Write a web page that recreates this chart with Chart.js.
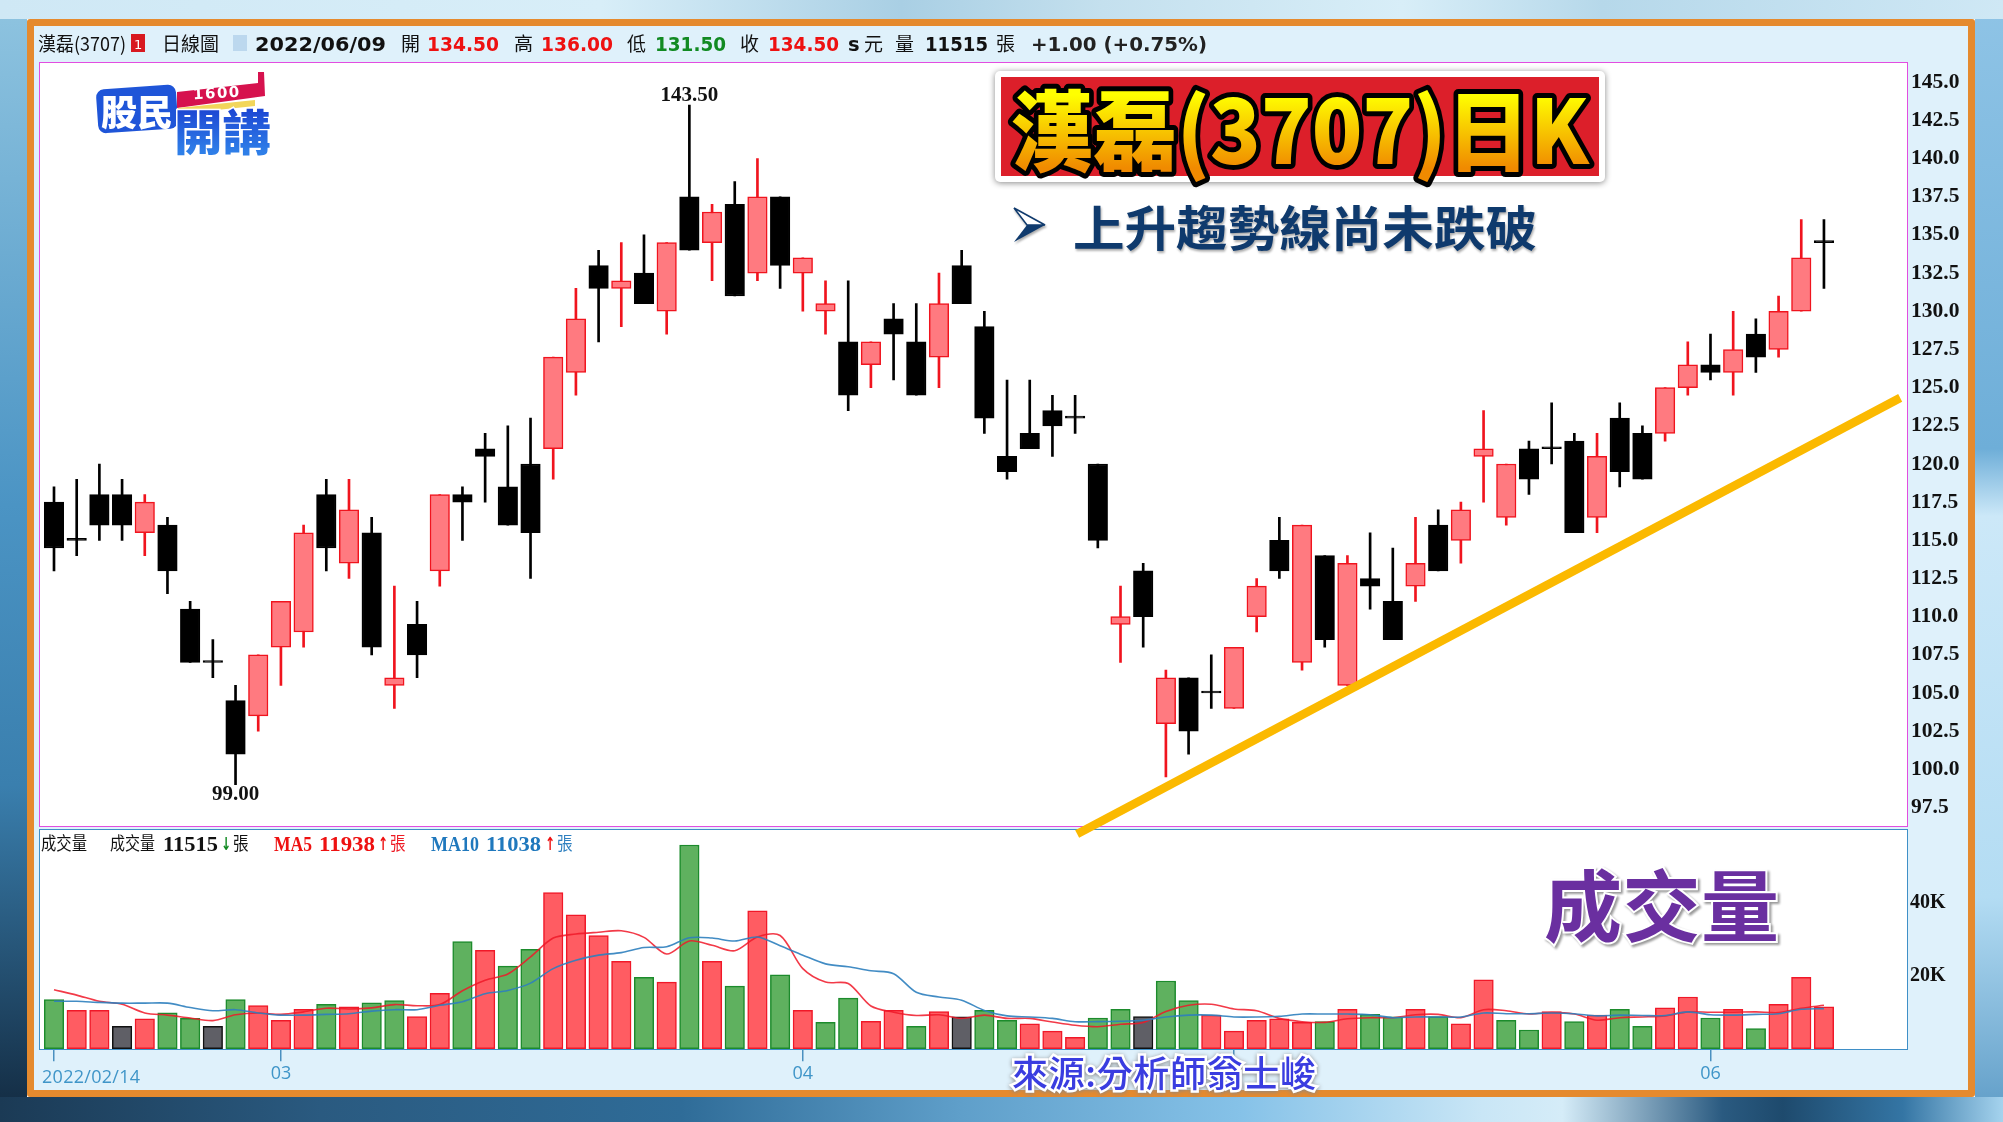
<!DOCTYPE html>
<html>
<head>
<meta charset="utf-8">
<title>漢磊(3707)日K</title>
<script src="https://cdn.jsdelivr.net/npm/chart.js@4"></script>
<style>
  html,body{margin:0;padding:0;}
  body{position:relative;width:2003px;height:1122px;overflow:hidden;
    background:
      linear-gradient(90deg,#1b3a55 0,#2a5a80 16%,#2f6c98 34%,#5f9fca 48%,#86c2e8 62%,#c9e6f6 74%,#d5ecf8 78%,#2a5a80 86%,#1e4a6d 89%,#3475a4 95%,#a5d3ee 100%) 0 1097px/100% 25px no-repeat,
      linear-gradient(90deg,#cfe8f5 0,#d8eef8 30%,#a9cfe4 45%,#c4e0ee 55%,#d8eef8 70%,#b6d8ea 80%,#cfe8f5 100%) 0 0/100% 19px no-repeat,
      linear-gradient(180deg,#8fc4e6 0,#6eaed8 40%,#cce8f8 46%,#b3dcf3 80%,#5d9bc6 100%) 1975px 0/28px 100% no-repeat,
      linear-gradient(180deg,#8fc4e0 0,#4b94c4 45%,#3a7fae 70%,#12293f 100%) 0 0/27px 100% no-repeat;
    font-family:"Noto Sans CJK TC",sans-serif;}
  #panel{position:absolute;left:27px;top:19px;width:1934px;height:1064px;border:7px solid #e58a2e;background:#dff1fb;border-radius:3px;}
  .plot{position:absolute;background:#fff;box-sizing:border-box;}
  #pricePlot{left:39px;top:62px;width:1869px;height:765px;border:1.5px solid #e24de0;}
  #volPlot{left:39px;top:829px;width:1869px;height:221px;border:1.5px solid #3f8fc7;}
  canvas{position:absolute;}
  #priceChart{left:40px;top:63px;z-index:3;}
  #volChart{left:40px;top:830px;z-index:2;}
  #overlay{position:absolute;left:0;top:0;z-index:4;}
  .cjk{font-family:"Noto Sans CJK TC",sans-serif;}
  .num{font-family:"DejaVu Sans",sans-serif;font-weight:700;font-size:19.5px;}
  .ser{font-family:"Liberation Serif",serif;font-weight:700;font-size:22px;}
</style>
</head>
<body>
<div id="panel"></div>
<div class="plot" id="pricePlot"></div>
<div class="plot" id="volPlot"></div>
<canvas id="volChart" width="1935" height="260"></canvas>
<canvas id="priceChart" width="1935" height="777"></canvas>

<svg id="overlay" width="2003" height="1122" viewBox="0 0 2003 1122">
  <defs>
    <linearGradient id="titleFill" gradientUnits="userSpaceOnUse" x1="0" y1="95" x2="0" y2="168">
      <stop offset="0" stop-color="#ffff00"/><stop offset="1" stop-color="#f08a00"/>
    </linearGradient>
    <linearGradient id="logoFill" gradientUnits="userSpaceOnUse" x1="0" y1="104" x2="0" y2="152">
      <stop offset="0" stop-color="#1a3fd0"/><stop offset="1" stop-color="#2f7fe8"/>
    </linearGradient>
  </defs>

  <!-- header row -->
  <g class="cjk" font-size="19" fill="#111">
    <text x="38" y="51" textLength="88" lengthAdjust="spacingAndGlyphs">漢磊(3707)</text>
    <rect x="131" y="34" width="14" height="18" fill="#d81920"/>
    <text x="134" y="49" font-size="13" fill="#fff" style="font-family:'DejaVu Sans'">1</text>
    <text x="162" y="51">日線圖</text>
    <rect x="233" y="35" width="14" height="16" fill="#bcd8ee"/>
    <text x="401" y="51">開</text><text x="514" y="51">高</text><text x="627" y="51">低</text>
    <text x="740" y="51">收</text><text x="864" y="51">元</text><text x="895" y="51">量</text>
    <text x="996" y="51">張</text>
  </g>
  <g class="num">
    <text x="255" y="51" fill="#111" textLength="131" lengthAdjust="spacingAndGlyphs">2022/06/09</text>
    <text x="427" y="51" fill="#ee1111" textLength="72" lengthAdjust="spacingAndGlyphs">134.50</text>
    <text x="541" y="51" fill="#ee1111" textLength="72" lengthAdjust="spacingAndGlyphs">136.00</text>
    <text x="655" y="51" fill="#118a22" textLength="71" lengthAdjust="spacingAndGlyphs">131.50</text>
    <text x="768" y="51" fill="#ee1111" textLength="71" lengthAdjust="spacingAndGlyphs">134.50</text>
    <text x="848" y="51" fill="#111">s</text>
    <text x="925" y="51" fill="#111" textLength="63" lengthAdjust="spacingAndGlyphs">11515</text>
    <text x="1031" y="51" fill="#222" textLength="176" lengthAdjust="spacingAndGlyphs">+1.00 (+0.75%)</text>
  </g>

  <!-- logo -->
  <g transform="rotate(-4 136 108)"><rect x="97" y="87" width="80" height="44" rx="8" fill="#1f55d8"/></g>
  <path d="M177 92 L258 83 L258 72 L264 72 L265 96 L177 108 Z" fill="#d6124e"/>
  <path d="M178 108 L255 100 L255 106 L178 114 Z" fill="#f2d65a"/>
  <text x="193" y="98" font-size="15" font-weight="700" fill="#fff" style="font-family:'DejaVu Sans'" letter-spacing="1.5" transform="rotate(-3 215 92)">1600</text>
  <text x="101" y="126" font-size="36" font-weight="900" fill="#fff" class="cjk" textLength="72" lengthAdjust="spacingAndGlyphs">股民</text>
  <text x="174" y="150" font-size="48" font-weight="900" class="cjk" fill="url(#logoFill)" stroke="#fff" stroke-width="3" paint-order="stroke" textLength="97" lengthAdjust="spacingAndGlyphs">開講</text>

  <!-- title box -->
  <rect x="995" y="71" width="610" height="111" rx="5" fill="#fff" style="filter:drop-shadow(0 1px 3px #888)"/>
  <rect x="1001" y="77" width="598" height="99" fill="#dc1f2a"/>
  <text x="1010" y="164" font-size="88" font-weight="900" class="cjk" fill="url(#titleFill)" stroke="#000" stroke-width="10" paint-order="stroke" stroke-linejoin="round" textLength="579" lengthAdjust="spacingAndGlyphs">漢磊(3707)日K</text>

  <!-- subtitle -->
  <g style="filter:drop-shadow(1px 2px 1px #aaa)">
    <polygon points="1014,208 1045,225 1027,225" fill="#fff" stroke="#0f3a6d" stroke-width="1.5"/>
    <polygon points="1014,242 1045,225 1027,225" fill="#0f3a6d"/>
    <text x="1073" y="246" font-size="48" font-weight="700" class="cjk" fill="#0f3a6d" textLength="464" lengthAdjust="spacingAndGlyphs">上升趨勢線尚未跌破</text>
  </g>

  <!-- volume legend -->
  <g class="cjk" font-size="18">
    <text x="41" y="850" fill="#111" textLength="46" lengthAdjust="spacingAndGlyphs">成交量</text>
    <text x="110" y="850" fill="#111" textLength="45" lengthAdjust="spacingAndGlyphs">成交量</text>
    <text x="233" y="850" fill="#111" textLength="15.5" lengthAdjust="spacingAndGlyphs">張</text>
    <text x="390" y="850" fill="#ee1b24" textLength="15.5" lengthAdjust="spacingAndGlyphs">張</text>
    <text x="557" y="850" fill="#2f80c0" textLength="15.5" lengthAdjust="spacingAndGlyphs">張</text>
  </g>
  <g class="ser">
    <text x="163" y="851" fill="#111" textLength="55" lengthAdjust="spacingAndGlyphs">11515</text>
    <text x="274" y="851" fill="#ee1111" textLength="38" lengthAdjust="spacingAndGlyphs">MA5</text>
    <text x="319" y="851" fill="#ee1111" textLength="56" lengthAdjust="spacingAndGlyphs">11938</text>
    <text x="431" y="851" fill="#1f78bd" textLength="48" lengthAdjust="spacingAndGlyphs">MA10</text>
    <text x="486" y="851" fill="#1f78bd" textLength="55" lengthAdjust="spacingAndGlyphs">11038</text>
  </g>
  <g font-size="18" font-weight="700" style="font-family:'DejaVu Sans'">
    <text x="221" y="850" fill="#118a22" textLength="10" lengthAdjust="spacingAndGlyphs">↓</text>
    <text x="378" y="850" fill="#ee1111" textLength="10" lengthAdjust="spacingAndGlyphs">↑</text>
    <text x="545" y="850" fill="#ee1111" textLength="10" lengthAdjust="spacingAndGlyphs">↑</text>
  </g>

  <!-- callouts -->
  <text x="1544" y="936" font-size="78" font-weight="700" class="cjk" fill="#6a2fa0" stroke="#fff" stroke-width="4" paint-order="stroke" textLength="235" style="filter:drop-shadow(2px 2px 1px #999)">成交量</text>
  <text x="42" y="1083" font-size="18" fill="#3f95c8" textLength="98" style="font-family:'Open Sans'">2022/02/14</text>
  <text x="1012" y="1087" font-size="36" font-weight="500" class="cjk" fill="#3a3de0" stroke="#fff" stroke-width="5" paint-order="stroke" textLength="304" style="filter:drop-shadow(0 1px 2px #888)">來源:分析師翁士峻</text>
</svg>

<script>
const opens  = [117.5,115,118,118,115.5,116,110.5,107,104.5,103.5,108,109,118,113.5,115.5,105.5,109.5,113,118,121,118.5,120,121,126,133,131.5,132.5,130,137.5,134.5,137,132.5,137.5,132.5,130,128,126.5,129.5,128,127,133,129,120.5,122,123.5,123,120,109.5,113,103,106,105,104,110,115,107,114,105.5,112.5,111,112,116,115,120.5,116.5,121,121,121.5,116.5,123,122,122,125,126.5,126,128.5,127.5,130,134.5];
const highs  = [118.5,119,120,119,118,116.5,111,108.5,105.5,107.5,111,116,119,119,116.5,112,111,118,118.5,122,122.5,123,127,131.5,134,134.5,135,134.5,143.5,137,138.5,140,137.5,133.5,132,132,128,130.5,130.5,132.5,134,130,125.5,125.5,124.5,124.5,120,112,113.5,106.5,106,107.5,108,112.5,116.5,116,114,114,115.5,114.5,116.5,117,117.5,123.5,120,121.5,124,122,122,124,122.5,125,128,128.5,130,129.5,131,136,136];
const lows   = [113,114,115,115,114,111.5,107,106,99,102.5,105.5,108,113,112.5,107.5,104,106,112,115,117.5,116,112.5,119,124.5,128,129,130.5,128.5,134,132,131,132,131.5,130,128.5,123.5,125,125.5,124.5,125,130.5,122,119,121,120.5,122,114.5,107,108,99.5,101,104,104,109,112.5,106.5,108,105.5,110.5,108.5,111,113,113.5,117.5,116,118,120,115.5,115.5,118.5,119,121.5,124.5,125.5,124.5,126,127,130,131.5];
const closes = [114.5,115,116,116,117.5,113,107,107,101,107.5,111,115.5,114.5,117,108,106,107.5,118,117.5,120.5,116,115.5,127,129.5,131.5,132,130.5,134.5,134,136.5,131,137.5,133,133.5,130.5,124.5,128,128.5,124.5,130.5,130.5,123,119.5,121,122.5,123,115,110,110,106,102.5,105,108,112,113,116,108.5,113.5,112,108.5,113.5,113,117,121,120,119,121,115.5,120.5,119.5,119,125,126.5,126,127.5,127,130,133.5,134.5];
const volumes = [13.5,10.5,10.5,6.1,8.2,9.8,8.3,6.1,13.5,11.8,7.8,10.8,12.2,11.5,12.6,13.2,8.8,15.2,29.4,27,22.7,27.3,42.9,36.8,31.1,24,19.6,18.3,56,24,17.2,37.9,20.3,10.5,7.2,13.9,7.5,10.5,6.1,10.2,8.7,10.5,7.8,6.8,4.8,3.1,8.4,10.8,8.8,18.6,13.2,9.2,4.8,7.8,8.2,7.2,7.4,10.8,9.4,8.7,10.8,8.8,6.8,18.9,7.8,5.1,10.2,7.4,9.2,10.8,6.1,11.2,14.2,8.4,10.8,5.5,12.2,19.6,11.5];
const volDir  = [-1,1,1,0,1,-1,-1,0,-1,1,1,1,-1,1,-1,-1,1,1,-1,1,-1,-1,1,1,1,1,-1,1,-1,1,-1,1,-1,1,-1,-1,1,1,-1,1,0,-1,-1,1,1,1,-1,-1,0,-1,-1,1,1,1,1,1,-1,1,-1,-1,1,-1,1,1,-1,-1,1,-1,1,-1,-1,1,1,-1,1,-1,1,1,1];
const ma5  = [16.2,14.7,13,12.2,9.8,9.2,8.4,7.7,9.3,9.8,9.4,10.1,11.1,10.9,11.2,12.1,11.8,12.1,15.9,18.8,20.5,25.2,30.4,31.5,32,32.4,30.6,26,29.6,28.4,26.9,30.7,31.1,22,18.3,17.9,11.7,10,9.1,9.3,8.3,9.2,8.3,8.3,7.3,6.4,6,6.7,7.2,10.2,11.9,12.2,10.9,10.4,8.3,7.4,7.2,8.2,8.5,8.5,9.3,9.4,8.5,10.7,10.4,9.5,9.9,9.5,7.8,8.5,8.7,9,10.1,10,10,10.1,9.9,11.1,11.9];
const ma10 = [13,13,12.7,12.5,12.5,12.5,11.3,10.4,10.7,9.8,9.2,9.2,9.4,9.6,10.3,10.7,10.7,11.9,12.9,15.1,16,18,22,24.3,25.7,26.4,27.8,28,30.5,30.4,29.6,30.7,28.3,25.7,23.3,22.5,21.4,20.6,15.5,14.2,13.3,10.5,9,8.7,8.3,7.4,7.4,7.5,7.8,8.7,9.2,9.2,8.7,8.7,8.9,9.5,9.5,9.5,9.3,8.5,8.7,8.7,8.7,9.8,9.6,9.6,9.8,9.6,9,9.2,9.1,9.1,10.1,9.3,9.2,9.4,9.6,10.8,11];
const priceTicks = [97.5,100,102.5,105,107.5,110,112.5,115,117.5,120,122.5,125,127.5,130,132.5,135,137.5,140,142.5,145];
const volTicks = [20,40];
const monthIdx = [0,10,33,52,73];
const monthLabels = ['','03','04','','06'];
const trendX = [45.09,81.36];
const trendY = [95.77,124.33];
const highMark = {i:28, text:'143.50'};
const lowMark = {i:8, text:'99.00'};

const xMin = -0.617, xMax = 81.66;
const axisFont = {family:'Liberation Serif', weight:'bold', size:21.5};
const ups = closes.map((c,i)=> c>opens[i]);

// tick labels must not shrink the plot area
const noPad = s => { s.paddingTop = s.paddingBottom = s.paddingLeft = s.paddingRight = 0; };

// 最高/最低 labels
const markLabels = {
  id:'markLabels',
  afterDatasetsDraw(c){
    const {ctx,scales:{x,y}} = c;
    ctx.save();
    ctx.font = 'bold 21px "Liberation Serif"';
    ctx.fillStyle = '#111';
    ctx.textAlign = 'center';
    ctx.textBaseline = 'middle';
    ctx.fillText(highMark.text, x.getPixelForValue(highMark.i), y.getPixelForValue(highs[highMark.i])-10);
    ctx.fillText(lowMark.text, x.getPixelForValue(lowMark.i), y.getPixelForValue(lows[lowMark.i])+10);
    ctx.restore();
  }
};

new Chart(document.getElementById('priceChart'), {
  data:{ datasets:[
    { type:'bar', order:3, data:highs.map((h,i)=>({x:i,y:[lows[i],h]})), barThickness:2, grouped:false,
      backgroundColor:ups.map(u=>u?'#f0141e':'#000') },
    { type:'bar', order:2, data:opens.map((o,i)=>({x:i,y:[o,closes[i]]})), barThickness:19.5, grouped:false, minBarLength:2,
      backgroundColor:ups.map(u=>u?'#ff7a80':'#000'), borderColor:ups.map(u=>u?'#f0141e':'#000'), borderWidth:1.5, borderSkipped:false },
    { type:'line', order:1, data:trendX.map((x,i)=>({x,y:trendY[i]})), borderColor:'#fbb900', borderWidth:8.5, pointRadius:0, clip:false, borderCapStyle:'butt' }
  ]},
  options:{
    responsive:false, animation:false,
    layout:{padding:{left:0,right:0,top:0,bottom:13.5}},
    plugins:{legend:{display:false},tooltip:{enabled:false}},
    scales:{
      x:{type:'linear',display:false,min:xMin,max:xMax,offset:false,grid:{display:false,offset:false}},
      y:{position:'right',min:96.26,max:146.26,grid:{display:false,drawTicks:false},border:{display:false},
        afterBuildTicks:s=>{ s.ticks = priceTicks.map(value=>({value})); },
        afterFit:s=>{ s.width = 68; noPad(s); },
        ticks:{color:'#111',font:axisFont,padding:4,callback:v=>v.toFixed(1),autoSkip:false}}
    }
  },
  plugins:[markLabels]
});

const volFill = d => d>0?'#ff5c62':d<0?'#5fb15f':'#5f5f66';
const volEdge = d => d>0?'#f01828':d<0?'#1c8b2c':'#111';

new Chart(document.getElementById('volChart'), {
  data:{ datasets:[
    { type:'line', order:1, data:ma10.map((y,x)=>({x,y})), borderColor:'rgba(46,127,190,.9)', borderWidth:1.6, pointRadius:0, tension:.3 },
    { type:'line', order:2, data:ma5.map((y,x)=>({x,y})), borderColor:'rgba(240,24,40,.85)', borderWidth:1.6, pointRadius:0, tension:.3 },
    { type:'bar', order:3, data:volumes.map((y,x)=>({x,y})), barThickness:19.5, grouped:false,
      backgroundColor:volDir.map(volFill), borderColor:volDir.map(volEdge), borderWidth:1.5, borderSkipped:false }
  ]},
  options:{
    responsive:false, animation:false,
    layout:{padding:0},
    plugins:{legend:{display:false},tooltip:{enabled:false}},
    scales:{
      x:{type:'linear',min:xMin,max:xMax,offset:false,
        grid:{drawOnChartArea:false,offset:false,color:'#4a90c0',tickLength:12,lineWidth:1.5},border:{display:false},
        afterBuildTicks:s=>{ s.ticks = monthIdx.map(value=>({value})); },
        afterFit:s=>{ s.height = 40.7; noPad(s); },
        ticks:{color:'#3f95c8',font:{family:'Open Sans',size:18},padding:2,maxRotation:0,autoSkip:false,
          callback:v=>monthLabels[monthIdx.indexOf(v)]}},
      y:{position:'right',min:-0.2,max:60.13,grid:{display:false,drawTicks:false},border:{display:false},
        afterBuildTicks:s=>{ s.ticks = volTicks.map(value=>({value})); },
        afterFit:s=>{ s.width = 68; noPad(s); },
        ticks:{color:'#111',font:{family:'Liberation Serif',weight:'bold',size:20},padding:3,callback:v=>v+'K',autoSkip:false}}
    }
  }
});
</script>
</body>
</html>
